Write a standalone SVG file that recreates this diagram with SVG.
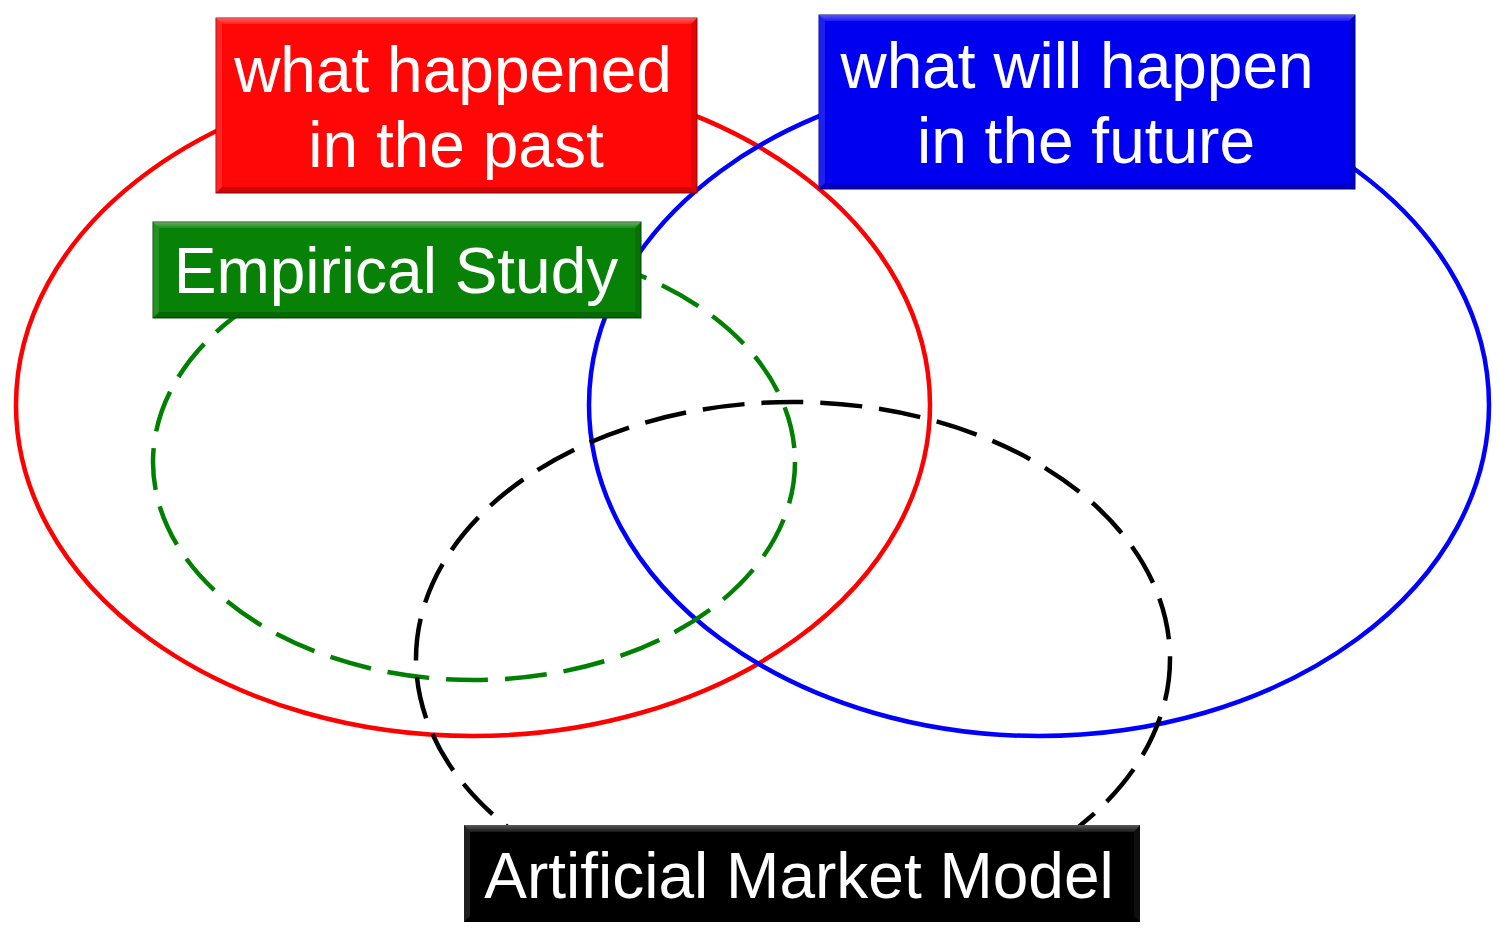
<svg xmlns="http://www.w3.org/2000/svg" width="1499" height="930" viewBox="0 0 1499 930">
  <style>
    .ring { fill: none; stroke-width: 4.5; }
    .dash { stroke-dasharray: 42 17; }
    .label { font-family: "Liberation Sans", Arial, sans-serif; font-size: 64px; fill: #ffffff; text-anchor: middle; }
    .hi { fill: #ffffff; }
    .lo { fill: #000000; }
  </style>
  <defs>
    <linearGradient id="topSheen" x1="0" y1="0" x2="0" y2="1">
      <stop offset="0" stop-color="#ffffff" stop-opacity="0.35"/>
      <stop offset="1" stop-color="#ffffff" stop-opacity="0.1"/>
    </linearGradient>
  </defs>

  <!-- regions -->
  <g id="regions">
    <ellipse id="past-region" class="ring" cx="473" cy="405" rx="457" ry="331" stroke="#ff0000"/>
    <ellipse id="future-region" class="ring" cx="1039" cy="405" rx="450" ry="331" stroke="#0000ff"/>
    <ellipse id="empirical-region" class="ring dash" cx="474" cy="462" rx="321" ry="218" stroke="#008000"/>
    <ellipse id="model-region" class="ring dash" cx="793" cy="659" rx="377" ry="257" stroke="#000000"/>
  </g>

  <!-- label boxes -->
  <g id="past">
    <rect x="216" y="18" width="481" height="175" fill="#ff0707" stroke="#b00000" stroke-width="1"/>
    <polygon points="216,18 697,18 691,24 222,24" fill="url(#topSheen)"/>
    <polygon points="216,18 222,24 222,187 216,193" class="hi" opacity="0.12"/>
    <polygon points="697,18 691,24 691,187 697,193" class="lo" opacity="0.12"/>
    <polygon points="216,193 222,187 691,187 697,193" class="lo" opacity="0.2"/>
    <text class="label" x="453" y="92">what happened</text>
    <text class="label" x="456" y="167">in the past</text>
  </g>

  <g id="future">
    <rect x="819" y="15" width="536" height="174" fill="#0000f0" stroke="#000090" stroke-width="1"/>
    <polygon points="819,15 1355,15 1349,21 825,21" fill="url(#topSheen)"/>
    <polygon points="819,15 825,21 825,183 819,189" class="hi" opacity="0.12"/>
    <polygon points="1355,15 1349,21 1349,183 1355,189" class="lo" opacity="0.12"/>
    <polygon points="819,189 825,183 1349,183 1355,189" class="lo" opacity="0.2"/>
    <text class="label" x="1077" y="88">what will happen</text>
    <text class="label" x="1086" y="163">in the future</text>
  </g>

  <g id="empirical">
    <rect x="153" y="222" width="488" height="96" fill="#078207" stroke="#004a00" stroke-width="1"/>
    <polygon points="153,222 641,222 635,228 159,228" fill="url(#topSheen)"/>
    <polygon points="153,222 159,228 159,312 153,318" class="hi" opacity="0.12"/>
    <polygon points="641,222 635,228 635,312 641,318" class="lo" opacity="0.12"/>
    <polygon points="153,318 159,312 635,312 641,318" class="lo" opacity="0.2"/>
    <text class="label" x="396" y="293">Empirical Study</text>
  </g>

  <g id="model">
    <rect x="464" y="825" width="676" height="97" fill="#000000"/>
    <polygon points="464,825 1140,825 1134,832 470,832" fill="url(#topSheen)"/>
    <polygon points="464,825 470,832 470,916 464,922" class="hi" opacity="0.12"/>
    <polygon points="1140,825 1134,832 1134,916 1140,922" class="hi" opacity="0.06"/>
    <text class="label" x="799" y="898">Artificial Market Model</text>
  </g>
</svg>
